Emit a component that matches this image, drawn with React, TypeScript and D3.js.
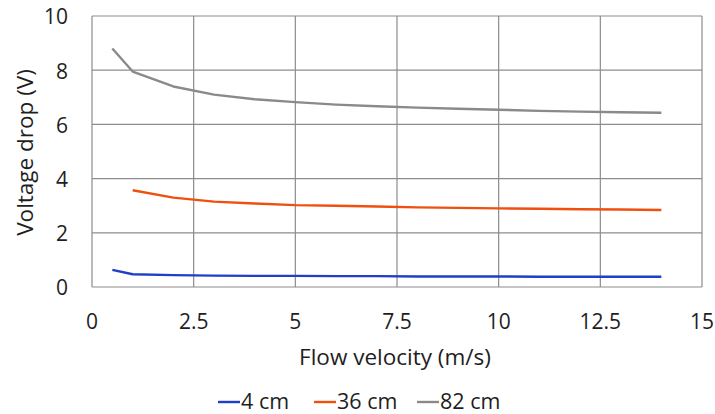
import React from "react";
import * as d3 from "d3";

const xTicks = [0, 2.5, 5, 7.5, 10, 12.5, 15];
const yTicks = [0, 2, 4, 6, 8, 10];

const velocityAll = [0.5, 1, 2, 3, 4, 5, 6, 7, 8, 9, 10, 11, 12, 13, 14];
const velocityOrange = [1, 2, 3, 4, 5, 6, 7, 8, 9, 10, 11, 12, 13, 14];

const v4cm = [0.63, 0.47, 0.44, 0.42, 0.41, 0.41, 0.4, 0.4, 0.39, 0.39, 0.39, 0.38, 0.38, 0.38, 0.38];
const v36cm = [3.57, 3.3, 3.15, 3.08, 3.02, 3.0, 2.97, 2.94, 2.92, 2.9, 2.89, 2.87, 2.86, 2.84];
const v82cm = [8.8, 7.95, 7.4, 7.1, 6.93, 6.82, 6.73, 6.67, 6.62, 6.58, 6.54, 6.5, 6.47, 6.45, 6.43];

const seriesNames = ["4 cm", "36 cm", "82 cm"];
const seriesColors = ["#1f3fc4", "#f0500f", "#8a8a8a"];

const W = 715;
const H = 414;
const L = 92, R = 702, T = 16, B = 287;
const FONT = "'Open Sans', sans-serif";
const TXT = "#1e1e1e";

export default function App() {
  const x = d3.scaleLinear().domain([0, 15]).range([L, R]);
  const y = d3.scaleLinear().domain([0, 10]).range([B, T]);
  const line = d3.line<[number, number]>().x((d) => x(d[0])).y((d) => y(d[1]));
  const series = [
    velocityAll.map((v, i) => [v, v4cm[i]] as [number, number]),
    velocityOrange.map((v, i) => [v, v36cm[i]] as [number, number]),
    velocityAll.map((v, i) => [v, v82cm[i]] as [number, number]),
  ];
  const legendX = [218, 314, 417];
  return (
    <svg width={W} height={H} style={{ position: "absolute", left: 0, top: 0, background: "#fff" }} fontFamily={FONT}>
      <rect x={0} y={0} width={W} height={H} fill="#fff" />
      {yTicks.map((t) => (
        <line key={"gy" + t} x1={L} x2={R} y1={y(t)} y2={y(t)} stroke="#8c8c8c" strokeWidth={1.2} />
      ))}
      {xTicks.map((t) => (
        <line key={"gx" + t} x1={x(t)} x2={x(t)} y1={T} y2={B} stroke="#8c8c8c" strokeWidth={1.2} />
      ))}
      {series.map((s, i) => (
        <path key={"s" + i} d={line(s) || ""} fill="none" stroke={seriesColors[i]} strokeWidth={2.4} strokeLinejoin="round" />
      ))}
      {yTicks.map((t) => (
        <text key={"ty" + t} x={68} y={y(t) + 1} dy="0.35em" textAnchor="end" fontSize={21} fill={TXT}>
          {t}
        </text>
      ))}
      {xTicks.map((t) => (
        <text key={"tx" + t} x={x(t)} y={329} textAnchor="middle" fontSize={21} fill={TXT}>
          {t}
        </text>
      ))}
      <text x={395} y={365} textAnchor="middle" fontSize={22.5} fill={TXT}>
        Flow velocity (m/s)
      </text>
      <text transform={`translate(33,${(T + B) / 2 + 1}) rotate(-90)`} textAnchor="middle" fontSize={22.5} fill={TXT}>
        Voltage drop (V)
      </text>
      {seriesNames.map((n, i) => (
        <g key={"lg" + i}>
          <line x1={legendX[i]} x2={legendX[i] + 22} y1={402} y2={402} stroke={seriesColors[i]} strokeWidth={2.4} />
          <text x={legendX[i] + 23} y={409} fontSize={21.5} fill={TXT}>
            {n}
          </text>
        </g>
      ))}
    </svg>
  );
}
